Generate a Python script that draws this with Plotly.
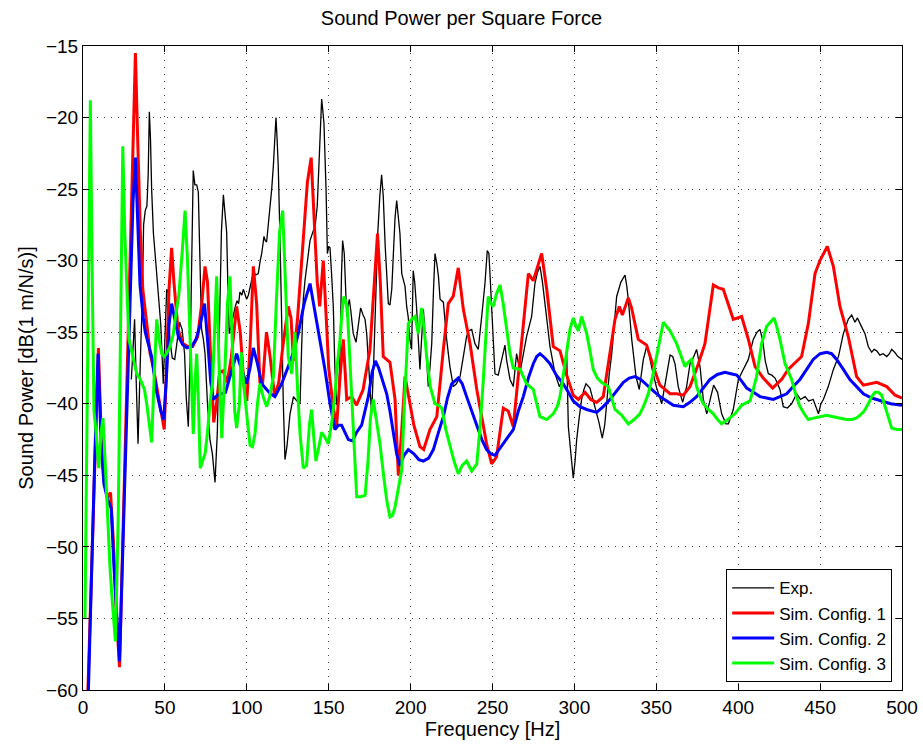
import plotly.graph_objects as go

# Measured sound power per square force (experiment), frequency in Hz, level in dB
exp_freq = [29.5, 30.5, 31.5, 32.5, 33.6, 35, 36.2, 37, 38, 39, 39.8, 40.5, 41.2, 41.9, 43, 44, 46, 47.5, 49, 50,
            51.1, 52, 53, 54.5, 56, 57.5, 59, 60.5, 62, 63, 64.3, 65.5, 66.5, 67.3, 68.3, 69.4, 70.4, 71.3, 72.4, 73.5,
            74.5, 76, 77.5, 79, 80.6, 82, 83.2, 84.5, 85.7, 86.8, 87.7, 88.5, 89.3, 90.5, 91.7, 93, 94, 95, 95.8, 97,
            97.9, 99, 99.9, 101, 102.5, 104, 105.5, 107, 108.2, 109.1, 110.5, 111.3, 112.1, 113, 114.2, 115.2, 116.2, 117, 117.8, 118.5,
            119.2, 120.3, 121.3, 122.3, 123.3, 124.5, 126.4, 128.5, 130.5, 132.5, 133.5, 134.5, 135.5, 137, 138.6, 140.6, 141.8, 143,
            144, 144.7, 145.7, 146.4, 147.1, 148.4, 149.2, 150, 150.8, 151.8, 152.8, 153.8, 154.8, 155.9, 157, 157.8, 158.5, 159.5,
            160.2, 161, 162, 162.6, 163.5, 165, 166.7, 168, 169.5, 171, 172.2, 173.2, 174.5, 176.2, 177.5, 178.8, 180, 181.2,
            182.3, 183.3, 184.5, 186.4, 187.4, 188.5, 189.5, 190.5, 191.5, 192.5, 193.5, 194.6, 196.6, 197.6, 198.6, 199.6, 200.6, 201.6,
            202.5, 203.6, 204.7, 205.7, 206.7, 207.8, 209, 210.8, 211.8, 212.9, 214, 214.9, 216, 217, 218, 220, 222, 224,
            226.1, 228, 230.2, 232, 234.2, 235.5, 237.3, 239.3, 241.3, 243.4, 245.4, 246.8, 247.8, 248.5, 249.5, 250.5, 251.5, 253.5,
            255.6, 257.6, 258.7, 260.7, 262.7, 264.7, 266.8, 268.8, 270.8, 273.9, 275.9, 277.5, 279, 280.5, 282.1, 285.1, 288.2, 290.8,
            293, 295.3, 296.3, 297.3, 299.3, 300.4, 301.4, 302.9, 304.4, 305.8, 307.1, 309.5, 312.6, 315, 317, 318.5, 319.7, 321.2,
            322.8, 324.3, 325.8, 328.4, 330.9, 332, 332.9, 335, 337.6, 339.6, 341, 342.1, 344.1, 345.5, 347.1, 350, 353.3, 355.9,
            358.4, 360, 361.4, 363.4, 366.1, 368.5, 370.6, 372.5, 374.6, 376.7, 378.7, 380.8, 383, 385, 387.4, 389.9, 392.5, 394,
            397, 400.1, 403.1, 406.2, 409.2, 411.5, 413.3, 415, 416.5, 418.4, 420.5, 422.5, 425.5, 427.5, 430, 432.6, 435.7, 438,
            440.8, 443, 445.8, 448, 449, 450.5, 452, 455, 458.1, 461.2, 464.2, 467.2, 469.3, 471.3, 472.8, 474.4, 477.4, 479.4,
            481.5, 483, 484.6, 486.5, 488.5, 490.7, 492.3, 493.7, 495.5, 497.5, 500]
exp_db = [-38.3, -36, -34.1, -38.5, -42.8, -37, -32.7, -27.5, -26.5, -26.2, -24, -19.6, -21.5, -25, -28.1, -29.5, -32.3, -34.5, -38.6, -35.5,
          -32, -32.2, -35.5, -36.8, -36.9, -35.6, -34.3, -34.8, -36.5, -39.5, -41.6, -36, -27, -23.7, -24.7, -24.7, -25.2, -29, -34.8, -35.5,
          -36.5, -40, -42.5, -43.5, -45.5, -42, -35, -28, -25.4, -26.7, -28, -32, -35.1, -34.5, -33.8, -33.2, -32.8, -33, -32.2, -32.4,
          -32, -32.5, -32.7, -32.4, -31.5, -30.8, -31, -30.9, -30, -29.5, -28.3, -28.6, -28.7, -27.7, -26.2, -25, -23.4, -21.5, -20, -21.5,
          -23.4, -28.6, -35.5, -40, -43.9, -43, -40.7, -39.5, -39.8, -40, -36, -32.7, -31.4, -30, -28.6, -27.9, -27.5, -26.2,
          -23.5, -21.6, -18.7, -19.5, -20.4, -25.1, -29.5, -29, -29.1, -31, -33.2, -37.6, -40, -40.2, -36, -31, -28.6, -29.5,
          -31.5, -33.9, -33, -32.7, -33.5, -35.1, -35.7, -34.5, -33.3, -33.8, -34.1, -35.1, -37.5, -40.7, -37, -32, -28, -25.5,
          -24, -25.5, -29, -33, -33.1, -32, -29, -27, -25.8, -27, -28.1, -30.9, -31.8, -33.2, -34, -35.5, -36.2, -30.7,
          -31.5, -33.2, -35.5, -37.6, -35.5, -33.4, -35.5, -38.8, -37.5, -35.8, -32, -29.5, -30.2, -31.1, -32.7, -32.9, -35.5, -37.4,
          -38.8, -38.6, -38.1, -36.8, -35.3, -34.9, -34.8, -35.8, -36.2, -33.9, -31.6, -29.3, -29.5, -31, -33.2, -35.5, -37.9, -38,
          -36.9, -35.9, -37, -38.3, -38.8, -36.5, -37.8, -36.5, -35.3, -33.9, -31.6, -30.8, -30.4, -31.5, -33.2, -36, -37.9, -38.8,
          -38.3, -36.5, -41.6, -42.8, -45.2, -44, -42.5, -41, -39.7, -39, -38.6, -38.9, -40.2, -41.3, -42.4, -41.5, -40, -38,
          -36.5, -34.3, -32.5, -31.5, -31, -31.8, -32.7, -35.5, -38.1, -39, -38, -36.9, -36, -36.5, -37.4, -38.8, -40, -38.1,
          -36.6, -36.7, -37.2, -38.8, -39.9, -38.8, -37.2, -36.8, -36.2, -37.4, -39.7, -40.7, -39.7, -38.7, -39.2, -40.7, -41.4, -41.4,
          -40.4, -38.3, -37.6, -36.9, -35.5, -35, -34.8, -35.6, -37, -37.9, -38, -38.2, -39, -40.2, -40.3, -40, -39.3, -39.7,
          -39.5, -39.8, -39.7, -40.5, -40.7, -40, -39.7, -38.8, -37.6, -36.7, -35.1, -34.1, -33.8, -34.3, -34, -34.4, -35.1, -36,
          -36.4, -36.2, -36.3, -36.6, -36.5, -36.7, -36.5, -36.2, -36.4, -36.7, -36.9]

# Simulation, configuration 1
sim1_freq = [3, 6, 9.4, 11.2, 13, 15, 16.8, 18.5, 20.5, 22.3, 25, 28.5, 30.5, 32, 33.5, 35, 36.5, 38.5, 41, 43,
             46, 48, 49.6, 51, 52.5, 54.1, 55.5, 58, 61, 64, 67, 70, 72.5, 74.5, 76, 78, 79.8, 81.5, 83.5, 85.5,
             88, 90.5, 93.8, 96, 98.5, 100, 102, 104, 106, 108, 109.5, 112, 114, 117, 119.5, 122, 125.3, 127, 128.5, 131,
             134, 137, 139.3, 141, 143, 144.5, 146.7, 148.5, 150, 152.5, 154.8, 157, 158.9, 161, 164, 167, 171, 175.2, 178, 179.8,
             181.5, 183.3, 187.4, 190.5, 192.5, 194.5, 196.6, 199, 202, 205.7, 208, 211.8, 216, 220, 223, 226, 229.1, 232.2, 236.3, 240.4,
             243.5, 246.4, 249.5, 252.5, 256.6, 259.6, 262.7, 266.8, 271.9, 274.9, 277.5, 280, 283.1, 287.1, 291.2, 295.3, 299.3, 302.4,
             306.5, 310, 313.6, 317.6, 321, 324.8, 327.4, 329.3, 332.9, 334.9, 339, 344.1, 348.2, 352.2, 358.4, 362.4, 366.5, 370.6,
             375.7, 379.7, 384.8, 387.9, 390.9, 393.9, 397, 402.1, 406.2, 410.3, 415.3, 421, 426.5, 430.5, 434.7, 438.7, 442.8, 446.9,
             449.9, 452.5, 454.4, 458.1, 462.1, 467.2, 472.3, 476.4, 480.5, 484.6, 490.7, 495.8, 500]
sim1_db = [-60, -48, -36.1, -42.5, -45.5, -46.5, -46.2, -49.5, -55, -58.4, -46, -32, -21, -15.5, -22, -28, -32, -34, -36.5, -37.5,
           -39.5, -41, -41.8, -37.5, -32, -29.1, -31.5, -34.8, -35.8, -36, -36, -35.3, -33, -30.4, -31.5, -37, -41.3, -40, -37.8, -37.7,
           -38.5, -36.8, -33.2, -35, -39, -39.8, -36, -30.4, -33, -38.5, -38.8, -35, -36.5, -39.5, -38.5, -36, -33.2, -34, -37, -34,
           -29, -24.5, -22.8, -27, -31.5, -33.2, -30, -34, -37.5, -40, -41.6, -38, -35.5, -39.7, -39.5, -40.1, -39, -36.2, -31, -28.1,
           -31.5, -36.7, -37.1, -39.7, -45, -42, -38.1, -39.5, -41.5, -43, -43.2, -41.8, -40.9, -36.2, -33, -32.5, -30.5, -33.4, -35.8, -39,
           -41, -42.8, -44.2, -43.7, -40.3, -40.5, -41.6, -36.7, -30.9, -31.4, -30.5, -29.5, -32, -36, -36.3, -38, -39.4, -39.7,
           -39.2, -39.7, -39.9, -39.5, -37, -34.1, -33.2, -33.8, -32.6, -33.3, -35.5, -35.9, -37.4, -38.7, -39.3, -39.3, -39.4, -38.8,
           -37.2, -35.8, -31.7, -31.9, -32, -33, -34.1, -33.9, -35.5, -37.4, -38.2, -38.9, -38.3, -37.6, -37.1, -36.7, -34.4, -30.9,
           -30, -29.4, -29, -30.4, -33.2, -35.3, -38.1, -38.7, -38.6, -38.5, -38.8, -39.4, -39.6]

# Simulation, configuration 2
sim2_freq = [3.3, 5, 7, 9.2, 11.2, 12.8, 15, 17.2, 19, 22.3, 25, 28.5, 30.5, 32, 33.5, 34.8, 36.8, 38, 41.9, 45,
             47.5, 49.3, 51, 52.5, 54.1, 56, 58.2, 61, 63.5, 66.3, 69, 71.5, 74.2, 76, 78, 79.6, 82, 84.7, 87, 90,
             93.8, 96.5, 99.9, 102, 104, 106.5, 109.1, 112.1, 114.5, 117.2, 121.3, 125.3, 128.5, 131.4, 135, 138.6, 140.5, 142.7, 145, 147.7,
             150.8, 153.8, 155.8, 157.9, 160, 162, 164.6, 167, 170.1, 174.2, 176.5, 178.5, 180.5, 183.3, 185.4, 187.4, 189.4, 191.5, 193.5, 196,
             198.6, 202, 205, 207.8, 211, 213.9, 217, 220, 222.5, 225.1, 229.1, 231.5, 234.2, 237.3, 240.4, 243.5, 246.4, 249, 251.5, 254,
             256.6, 259.6, 262.7, 265.8, 268.8, 271.9, 274.9, 277, 279, 282, 285.1, 289, 293.2, 296.3, 299.3, 303.4, 307.5, 313.6, 317.6, 321.7,
             325.8, 329.9, 333.5, 337, 340.5, 344.1, 348.2, 352.2, 356.3, 360.4, 366.5, 370.5, 374.6, 378.7, 382.8, 387.3, 391.9, 395.5, 399.1, 402,
             405.2, 409.3, 413.3, 417.3, 421.4, 425.5, 429.6, 433.6, 437.7, 441.8, 445.8, 450, 454, 457, 460.1, 464.2, 468.2, 472.3, 476.4, 481.5,
             486.6, 493, 500]
sim2_db = [-60, -52.5, -44.5, -36.5, -43.2, -45.6, -46.7, -47.3, -51.6, -58, -47, -33, -26, -22.8, -27.5, -31.7, -34, -35, -36.7, -39.2,
           -40.5, -41.1, -38, -34.5, -33, -34, -35.3, -35.9, -36.1, -36, -35.5, -34.5, -33, -35.5, -38.5, -39.7, -39.4, -39.3, -39.2, -38,
           -36.5, -37.5, -38.6, -37.5, -36.1, -37.2, -38.6, -39, -39.3, -39.5, -38.6, -37.4, -36.4, -35.1, -33, -31.6, -32.8, -34.1, -35.8, -37.6,
           -40, -41.8, -41.5, -41.5, -42, -42.5, -42.6, -42, -41.5, -39.5, -37.8, -37, -37.5, -38.5, -39.3, -40.5, -42.1, -43.5, -44.3, -43.6,
           -43.2, -43.5, -43.9, -44, -43.8, -43.2, -42, -40.9, -39.6, -38.6, -38.2, -38.6, -39.5, -40.5, -41.6, -42.5, -43.2, -43.5, -43.6, -43.2,
           -42.8, -42.3, -41.8, -40.5, -39.5, -38.2, -37.2, -36.7, -36.5, -36.8, -37.2, -38, -38.6, -39.2, -39.8, -40.2, -40.4, -40.6, -40.2, -39.7,
           -39.1, -38.5, -38.2, -38.1, -38.3, -38.7, -39.1, -39.5, -39.8, -40.1, -40.2, -39.9, -39.5, -38.9, -38.3, -37.95, -37.8, -37.9, -38, -38.4,
           -38.9, -39.2, -39.5, -39.6, -39.7, -39.5, -39.3, -38.8, -38.3, -37.6, -36.9, -36.5, -36.4, -36.5, -36.9, -37.6, -38.3, -38.8, -39.3, -39.6,
           -39.8, -40, -40.1]

# Simulation, configuration 3
sim3_freq = [1.2, 2.5, 3.5, 4.5, 5.5, 6.7, 8, 9.6, 11, 12.2, 13.5, 15, 16.5, 18, 19.8, 21.5, 23, 24.3, 25.5, 27,
             28, 30, 32.8, 35, 37.5, 38.9, 40.5, 41.9, 43.5, 45, 46.5, 48, 49.5, 51, 53, 55, 57, 58.5, 60.5, 62.3,
             63.8, 65.3, 66.3, 67.3, 68.4, 69.4, 70.5, 71.6, 73, 74.5, 76, 77.5, 79.1, 80.4, 81.6, 83, 84.7, 86.5, 88.2, 89.7,
             91.3, 92.6, 93.8, 95.5, 96.6, 98, 100, 102, 103.5, 105, 106.5, 108, 110, 112.1, 114, 116.2, 118, 120, 121.9, 123.5,
             125.3, 127.4, 129.4, 131, 132.5, 134.5, 136.5, 138.2, 139.6, 141, 142.2, 144, 145.7, 147.5, 149.8, 152, 153.8, 155.5, 156.9, 158.2,
             159.3, 161.3, 163, 165, 167.1, 169.5, 172.2, 174, 175.5, 177.2, 179, 181.3, 183.5, 185.5, 187.4, 189, 190.5, 192.5, 194.6, 196.2,
             197.6, 198.6, 200.6, 202.7, 204.7, 206.7, 208.3, 209.8, 212, 214.9, 217, 219, 221.5, 224, 226.5, 229.1, 231.5, 234.2, 237.3, 240.4,
             242.5, 244.4, 246, 247.4, 249, 250.5, 252.5, 254.6, 256.5, 258.7, 260.7, 262.7, 266.8, 270.8, 274.9, 277, 279, 283.1, 287.1, 289.5,
             291.2, 293.2, 295.3, 297.3, 299.3, 301, 302.4, 304.4, 306, 307.5, 309.5, 311.5, 314, 316.6, 320.7, 322.8, 324.8, 328.9, 332.9, 336.5,
             340, 342.5, 345.1, 347.7, 350.2, 352.3, 354.3, 356.3, 358.4, 362.4, 365, 367.5, 369.5, 371.6, 373, 374.6, 376.7, 378.7, 381.8, 384.8,
             387.4, 389.9, 392.5, 395, 398, 402.1, 405, 407.2, 409.2, 411.2, 414.3, 417.3, 419.6, 421.9, 423.7, 425.5, 428.6, 432.6, 435, 437.7,
             440.3, 442.8, 446, 449.9, 454, 458, 462.1, 466, 469.3, 472, 474.4, 477, 479.4, 481.5, 483.5, 485.5, 487.6, 489.2, 490.7, 492.2,
             493.7, 497, 500]
sim3_db = [-55, -42, -28, -18.8, -30, -40.5, -42, -44.5, -42, -41, -44, -48, -51.5, -54, -56.6, -48, -32, -22, -28, -33.4,
           -35.5, -36.5, -37.9, -38.3, -39, -40, -41.5, -42.7, -38, -34.1, -35.5, -36.5, -36.7, -36.5, -36, -35.2, -33.5, -32.4, -29.5, -26.5,
           -30, -35.1, -40, -42.1, -38.5, -36.5, -40, -44.5, -44, -43.5, -42, -40, -38.5, -35, -31.1, -37, -42.4, -38, -33, -31.1,
           -36, -40.5, -41.7, -40, -36.4, -38.5, -40.8, -42.9, -43, -42.1, -40, -38.6, -39.5, -40.2, -39.5, -38.1, -33, -28, -26.5, -32,
           -36.7, -37.9, -35, -39, -42.1, -44.5, -44.3, -41.5, -40.4, -42.5, -44, -43, -42, -42.3, -42.8, -41.2, -39.3, -37, -35.5, -33.5,
           -32.5, -33.2, -37.4, -42, -46.5, -46.5, -46.4, -44, -41, -39.7, -41, -42.8, -45, -46.8, -47.9, -47.8, -47.2, -46, -44.6, -40,
           -36.2, -34.4, -34.1, -33.9, -35.1, -33.3, -34.8, -36.7, -38.8, -40, -40.1, -40.3, -41.8, -43, -44, -44.9, -44.3, -44, -44.7, -44.2,
           -41.5, -38.3, -35, -32.5, -33, -33.2, -32.3, -31.7, -33, -34.8, -36.5, -37.5, -37.6, -38.6, -39, -40, -40.9, -41.1, -40.7, -40.2,
           -39.5, -38, -36.2, -34.8, -34, -34.6, -34.9, -33.9, -34.5, -35.1, -36.3, -37.6, -38.2, -38.5, -38.8, -39.7, -40.4, -40.8, -41.4, -41.1,
           -40.7, -40.1, -39.3, -38.1, -36.7, -35.3, -34.3, -34.6, -34.9, -35.8, -36.6, -37.4, -37.1, -36.9, -37.8, -38.8, -39.5, -40, -40.4, -40.7,
           -41.1, -41.4, -41.2, -41, -40.7, -40.1, -39.9, -39.8, -39, -38.1, -35.8, -34.6, -34.3, -34, -34.7, -35.5, -37.2, -38.3, -39.3, -40.2,
           -40.7, -41.1, -41, -40.9, -40.8, -40.9, -41, -41.1, -41.1, -41, -40.8, -40.5, -40, -39.5, -39.2, -39.2, -39.4, -40, -40.7, -41.3,
           -41.7, -41.8, -41.8]

x_ticks = [0, 50, 100, 150, 200, 250, 300, 350, 400, 450, 500]
y_ticks = [-60, -55, -50, -45, -40, -35, -30, -25, -20, -15]

FONT = "Liberation Sans, Arial, Helvetica, sans-serif"

fig = go.Figure()
fig.add_trace(go.Scatter(x=exp_freq, y=exp_db, mode="lines", name="Exp.",
                         line=dict(color="#000000", width=1.3)))
fig.add_trace(go.Scatter(x=sim1_freq, y=sim1_db, mode="lines", name="Sim. Config. 1",
                         line=dict(color="#ff0000", width=3)))
fig.add_trace(go.Scatter(x=sim2_freq, y=sim2_db, mode="lines", name="Sim. Config. 2",
                         line=dict(color="#0000ff", width=3)))
fig.add_trace(go.Scatter(x=sim3_freq, y=sim3_db, mode="lines", name="Sim. Config. 3",
                         line=dict(color="#00ff00", width=3)))

axis_common = dict(
    showline=True, linecolor="black", linewidth=1, mirror="ticks",
    ticks="inside", ticklen=6, tickcolor="black",
    showgrid=True, gridcolor="#444444", gridwidth=1, griddash="1px,6px",
    zeroline=False, automargin=False,
    tickfont=dict(size=19, color="black", family=FONT),
)

fig.update_layout(
    width=923, height=747,
    margin=dict(l=83, r=21, t=46, b=57),
    paper_bgcolor="white", plot_bgcolor="white",
    font=dict(family=FONT, color="black", size=19),
    title=dict(text="Sound Power per Square Force", x=0.5, xanchor="center",
               y=1 - 18 / 747, yanchor="middle", yref="container",
               font=dict(size=20, color="black", family=FONT)),
    xaxis=dict(range=[0, 500], tickvals=x_ticks,
               title=dict(text="Frequency [Hz]", standoff=5, font=dict(size=20)),
               **axis_common),
    yaxis=dict(range=[-60, -15], tickvals=y_ticks,
               title=dict(text="Sound Power [dB(1 m/N/s)]", standoff=6, font=dict(size=20)),
               **axis_common),
    legend=dict(x=0.988, xanchor="right", y=0.012, yanchor="bottom",
                bgcolor="white", bordercolor="black", borderwidth=1,
                font=dict(size=17, color="black", family=FONT),
                itemwidth=42, tracegroupgap=0),
    showlegend=True,
)

fig.write_html("out.html")
